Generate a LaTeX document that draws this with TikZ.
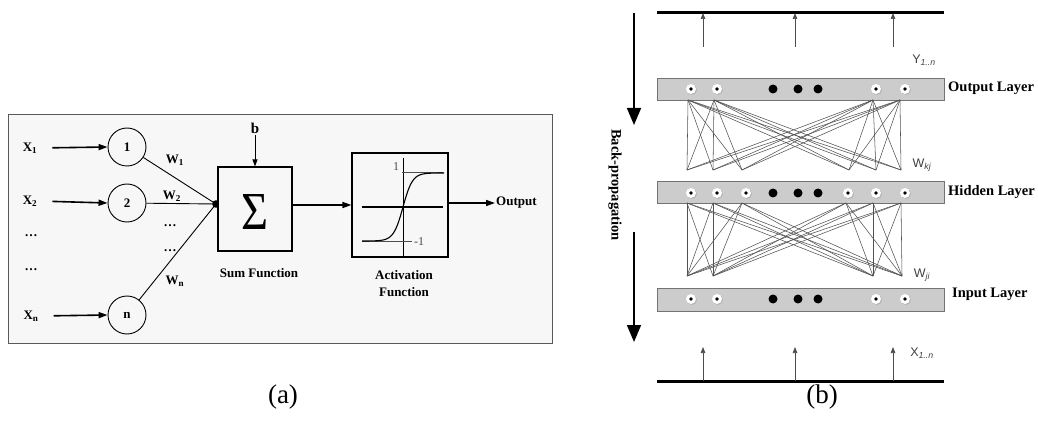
\documentclass[tikz,border=0pt]{standalone}
\usepackage{fontspec}
\setmainfont{Liberation Serif}
\newfontfamily\lsans{Liberation Sans}
\usetikzlibrary{arrows.meta,shadows}
\begin{document}
\begin{tikzpicture}[x=1pt,y=-1pt,
  lbl/.style={font=\fontsize{13}{15}\selectfont\bfseries, inner sep=1pt},
  blbl/.style={font=\fontsize{14.5}{16}\selectfont\bfseries, inner sep=1pt, anchor=west},
  slbl/.style={font=\lsans\fontsize{12.5}{14}\selectfont, text=black!75, inner sep=1pt},
  captext/.style={font=\fontsize{27}{29}\selectfont},
  neuron/.style={circle, draw, line width=0.9pt, minimum size=38pt, inner sep=0pt, font=\fontsize{13}{15}\selectfont\bfseries},
  fbox/.style={draw, line width=1.1pt, fill=white!97!black, inner sep=0pt},
  arr/.style={-{Triangle[width=6pt,length=9pt]}, line width=1.6pt},
  bar/.style={draw=black!55, fill=black!20, line width=0.8pt},
  unit/.style={circle, fill=white, minimum size=10pt, inner sep=0pt,
     drop shadow={shadow xshift=0.9pt, shadow yshift=-0.9pt, opacity=0.35}},
  bdot/.style={circle, fill=black, minimum size=9pt, inner sep=0pt},
  conn/.style={draw=black!68, line width=0.55pt},
  uparr/.style={-{Triangle[width=4.5pt,length=6pt]}, draw=black!70, line width=0.7pt},
  heavyline/.style={line width=3pt},
  bp/.style={-{Triangle[width=14pt,length=17pt]}, line width=1.6pt}
]
\useasboundingbox (0,0) rectangle (1038,422);

% ---------------- Panel (a) ----------------
\node[draw=black!65, fill=black!3, line width=1.1pt, minimum width=544pt, minimum height=229pt, anchor=north west, inner sep=0pt] (framea) at (8,114) {};

\node[neuron] (n1) at (127,147) {1};
\node[neuron] (n2) at (127,203) {2};
\node[neuron] (nn) at (127,315) {n};

\node[lbl] (x1) at (30,148) {X\textsubscript{1}};
\node[lbl] (x2) at (30,201) {X\textsubscript{2}};
\node[lbl] (xd1) at (31,236) {\ldots};
\node[lbl] (xd2) at (31,270) {\ldots};
\node[lbl] (xn) at (31,316) {X\textsubscript{n}};

\draw[arr, shorten <=14pt] (x1.east) -- (n1.west);
\draw[arr, shorten <=14pt] (x2.east) -- (n2.west);
\draw[arr, shorten <=14pt] (xn.east) -- (nn.west);

\coordinate (j) at (216,204);
\draw[line width=0.9pt] (n1) -- (j);
\draw[line width=0.9pt] (n2) -- (j);
\draw[line width=0.9pt] (nn) -- (j);
\fill (j) circle (3.8pt);

\node[lbl] (w1) at (175,160) {W\textsubscript{1}};
\node[lbl] (w2) at (172,196) {W\textsubscript{2}};
\node[lbl] (wd1) at (170,226) {\ldots};
\node[lbl] (wd2) at (170,251) {\ldots};
\node[lbl] (wn) at (175,281) {W\textsubscript{n}};

\node[fbox, minimum width=74pt, minimum height=84pt] (sum) at (255,209) {};
\node[inner sep=0pt] (sig) at (255,212) {\resizebox{27pt}{35pt}{Σ}};
\node[lbl, font=\fontsize{15}{17}\selectfont\bfseries] (b) at (255,128) {b};
\draw[-{Triangle[width=5pt,length=7pt]}, line width=0.9pt, shorten <=1pt] (b.south) -- (sum.north);
\node[lbl] (sumlbl) at (259,273) {Sum Function};

\node[fbox, minimum width=96pt, minimum height=104pt] (act) at (400,205) {};
\coordinate (ha) at (362,207);
\coordinate (hb) at (443,207);
\coordinate (va) at (403,158);
\coordinate (vb) at (403,257);
\draw[line width=1.6pt] (ha) -- (hb);
\draw[line width=1pt] (va) -- (vb);
\coordinate (t1) at (402,172);
\coordinate (t2) at (443,172);
\coordinate (m1) at (362,241);
\coordinate (m2) at (412,241);
\draw[line width=0.6pt, black!70] (t1) -- (t2);
\draw[line width=0.6pt, black!70] (m1) -- (m2);
\draw[line width=1.1pt] plot[domain=-41:41, samples=80, smooth] ({403+\x}, {207-34*tanh(\x/9.5)});
\node[font=\fontsize{12}{14}\selectfont, text=black!70, inner sep=0pt] (one) at (396,167) {1};
\node[font=\fontsize{12}{14}\selectfont, text=black!70, inner sep=0pt, anchor=west] (mone) at (414,242) {-1};
\node[lbl, align=center, font=\fontsize{13}{17}\selectfont\bfseries] (actlbl) at (404,284) {Activation\\Function};

\draw[arr] (sum.east |- act.west) -- (act.west);
\node[lbl, anchor=west] (out) at (495,203) {Output};
\draw[arr] (act.east |- out.west) -- (out.west);

\node[captext] (capa) at (283,397) {(a)};

% ---------------- Panel (b) ----------------
\coordinate (topL) at (657,13);
\coordinate (topR) at (944,13);
\draw[heavyline] (topL) -- (topR);
\coordinate (botL) at (657,381);
\coordinate (botR) at (944,381);
\draw[heavyline] (botL) -- (botR);

\foreach \x [count=\i] in {703,795,893} {
  \coordinate (ya\i) at (\x,47);
  \coordinate (yb\i) at (\x,13);
  \draw[uparr] (ya\i) -- (yb\i);
  \coordinate (xa\i) at (\x,381);
  \coordinate (xb\i) at (\x,347);
  \draw[uparr] (xa\i) -- (xb\i);
}
\node[slbl] (ylab) at (924,60) {Y\textsubscript{\textit{1..n}}};
\node[slbl] (xlab) at (922,353) {X\textsubscript{\textit{1..n}}};

% bars
\node[bar, minimum width=287pt, minimum height=22pt, anchor=north west, inner sep=0pt] (outbar) at (657,78) {};
\node[bar, minimum width=287pt, minimum height=22pt, anchor=north west, inner sep=0pt] (hidbar) at (657,181) {};
\node[bar, minimum width=287pt, minimum height=23pt, anchor=north west, inner sep=0pt] (inbar) at (657,288) {};

\node[blbl] (outlbl) at (947,88) {Output Layer};
\node[blbl] (hidlbl) at (947,192) {Hidden Layer};
\node[blbl] (inlbl) at (951,294) {Input Layer};

% connections output -> hidden region
\foreach \a [count=\i] in {688,714,873,900} {
  \coordinate (oc\i) at (\a,100);
}
\foreach \b [count=\k] in {687,713,742,849,876,901} {
  \coordinate (hc\k) at (\b,170);
}
\foreach \i in {1,...,4} {
  \foreach \k in {1,...,6} {
    \draw[conn] (oc\i) -- (hc\k);
  }
}
% connections hidden -> input region
\foreach \b [count=\k] in {687,713,742,846,873,901} {
  \coordinate (hd\k) at (\b,203);
}
\foreach \a [count=\i] in {687,713,873,902} {
  \coordinate (ic\i) at (\a,276);
}
\foreach \k in {1,...,6} {
  \foreach \i in {1,...,4} {
    \draw[conn] (hd\k) -- (ic\i);
  }
}

% units
\foreach \x [count=\i] in {691,717,876,905} {
  \node[unit] (ou\i) at (\x,89) {};
  \fill (ou\i.center) circle (1.9pt);
  \node[unit] (iu\i) at (\x,299) {};
  \fill (iu\i.center) circle (1.9pt);
}
\foreach \x [count=\i] in {691,717,746,848,876,905} {
  \node[unit] (hu\i) at (\x,193) {};
  \fill (hu\i.center) circle (1.9pt);
}
\foreach \x [count=\i] in {773,798,818} {
  \node[bdot] (od\i) at (\x,89) {};
  \node[bdot] (hdd\i) at (\x,193) {};
  \node[bdot] (idd\i) at (\x,299) {};
}

\node[slbl] (wkj) at (922,165) {W\textsubscript{\textit{kj}}};
\node[slbl] (wji) at (922,275) {W\textsubscript{\textit{ji}}};

% back-propagation
\coordinate (bp1a) at (634,13);
\coordinate (bp1b) at (634,125);
\coordinate (bp2a) at (634,232);
\coordinate (bp2b) at (634,342);
\draw[bp] (bp1a) -- (bp1b);
\draw[bp] (bp2a) -- (bp2b);
\node[font=\fontsize{14.5}{16}\selectfont\bfseries, rotate=-90, inner sep=0pt] (bplbl) at (615,185) {Back-propagation};

\node[captext] (capb) at (822,397) {(b)};
\end{tikzpicture}
\end{document}
